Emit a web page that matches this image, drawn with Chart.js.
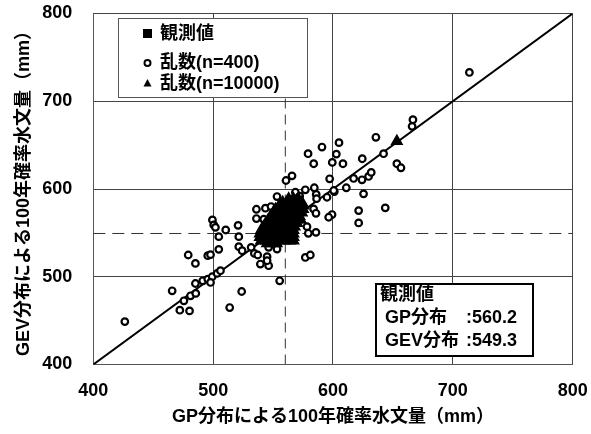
<!DOCTYPE html>
<html>
<head>
<meta charset="utf-8">
<script src="https://cdn.jsdelivr.net/npm/chart.js@4.4.1/dist/chart.umd.min.js"></script>
<style>
html,body{margin:0;padding:0;background:#fff;}
#c{display:block;}
</style>
</head>
<body>
<canvas id="c" width="591" height="434"></canvas>
<script>
// ---- data ----
const xTitle = "GP分布による100年確率水文量（mm）";
const yTitle = "GEV分布による100年確率水文量（mm）";
const legendLabels = ["観測値", "乱数(n=400)", "乱数(n=10000)"];
const axisMin = 400, axisMax = 800, tickStep = 100;
const observedGP = 560.2;
const observedGEV = 549.3;
const noteTitle = "観測値";
const noteRows = [["GP分布", ":560.2"], ["GEV分布", ":549.3"]];

// n=400 random samples [GP, GEV]
const sample400 = [
 [713.8,732.8],[666.7,679],[666,671.4],[635.8,658.9],[605,652.8],[590.8,647.8],
 [579.2,640.2],[602.8,639.8],[583.9,628.8],[599.4,630.3],[608.3,628.8],[624.4,634.5],
 [642.2,640.2],[653.3,628.8],[656.7,624.2],[565.8,615],[560.8,609.7],[597.2,611.6],
 [617.2,612],[624.2,610.5],[629.7,614.3],[631.9,618.9],[611.1,601.4],[601.1,597.1],
 [625.5,594.5],[584.4,601.4],[576.9,599.1],[568.6,596.3],[572.2,591.8],[586,593.8],
 [586.3,589],[595,590.6],[553.3,591.4],[600.6,598.3],[621.4,575.4],[643.6,578.5],
 [621.4,561.3],[599.2,570.9],[596.4,567.8],[583.8,577.4],[585.8,572.3],[578.3,557.1],
 [579.4,549.5],[585.8,550.6],[536.1,576.9],[543.6,578.1],[548.3,580],[536.1,566.3],
 [542.2,565.5],[546.3,564],[553.3,564],[499.4,564.8],[500.5,559.1],[501.9,556.3],
 [504.7,545.7],[510.5,553.3],[520.8,558.6],[521.4,545.7],[504.7,531.2],[495.5,524],
 [497.8,525.2],[479.2,524.8],[485.2,515.2],[521.4,534.3],[524.2,529.7],[531.7,533.5],
 [534.4,526.6],[537.2,524.8],[539.4,543.1],[543.6,541.1],[547.8,545.7],[546.3,533.5],
 [553.3,531.6],[545,522.9],[539.4,514.5],[546.3,512.6],[545,518.3],[576.9,522],
 [581.1,524.8],[555.5,495.4],[523.8,483.2],[513.8,464.9],[465.8,484],[472.2,461.9],
 [480.3,461.1],[426.3,448.9],[475.6,472.6],[481.1,478.3],[485.5,481],[485.2,492.3],
 [491.3,495.4],[495.5,497.3],[499.2,500],[503.3,503.8],[506.1,506.9],[497.8,493.5]
];

// n=10000 random samples [GP, GEV] (dense cluster)
const sample10000 = [
 [563,589],[567,589],[571,589],
 [558,585],[562,585],[566,585],[570,585],[574,585],
 [555,581],[559,581],[563,581],[567,581],[571,581],[575,581],
 [552,577],[556,577],[560,577],[564,577],[568,577],[572,577],[575,577],
 [550,573],[554,573],[558,573],[562,573],[566,573],[570,573],[574,573],
 [548,569],[552,569],[556,569],[560,569],[564,569],[568,569],[572,569],
 [546,565],[550,565],[554,565],[558,565],[562,565],[566,565],[570,565],[573,565],
 [544,561],[548,561],[552,561],[556,561],[560,561],[564,561],[568,561],[570,561],
 [542,557],[546,557],[550,557],[554,557],[558,557],[562,557],[566,557],[568,557],
 [540,553],[544,553],[548,553],[552,553],[556,553],[560,553],[564,553],[567,553],
 [539,549],[543,549],[547,549],[551,549],[555,549],[559,549],[563,549],[567,549],
 [539,545],[543,545],[547,545],[551,545],[555,545],[559,545],[563,545],[567,545],
 [540,541],[544,541],[548,541],[552,541],[556,541],[560,541],[564,541],[567,541],
 [545,538],[549,538],[553,538],
 [653.3,654.3]
];

const observed = [[observedGP, observedGEV]];

// ---- build ----
const toPts = a => a.map(p => ({x: p[0], y: p[1]}));
const FONT = "'Liberation Sans', 'Noto Sans CJK JP', sans-serif";

const boxesPlugin = {
  id: 'boxes',
  afterDatasetsDraw(chart) {
    const ctx = chart.ctx;
    ctx.save();
    // legend box
    ctx.fillStyle = '#fff';
    ctx.fillRect(118, 18, 189, 79);
    ctx.strokeStyle = '#555';
    ctx.lineWidth = 1;
    ctx.strokeRect(118.5, 18.5, 189, 79);
    ctx.fillStyle = '#000';
    ctx.fillRect(143, 29, 9, 9);
    ctx.beginPath();
    ctx.arc(147.5, 63, 3, 0, Math.PI * 2);
    ctx.fillStyle = '#fff'; ctx.fill();
    ctx.lineWidth = 2; ctx.strokeStyle = '#000'; ctx.stroke();
    ctx.beginPath();
    ctx.moveTo(147.5, 79); ctx.lineTo(151.5, 86.5); ctx.lineTo(143.5, 86.5); ctx.closePath();
    ctx.fillStyle = '#000'; ctx.fill();
    ctx.font = "bold 18px " + FONT;
    ctx.textBaseline = 'middle';
    ctx.textAlign = 'left';
    ctx.fillText(legendLabels[0], 160, 34);
    ctx.fillText(legendLabels[1], 160, 63);
    ctx.fillText(legendLabels[2], 160, 84);
    // note box
    ctx.fillStyle = '#fff';
    ctx.fillRect(375, 283, 158, 73);
    ctx.strokeStyle = '#000';
    ctx.lineWidth = 2;
    ctx.strokeRect(376, 284, 157, 72);
    ctx.fillStyle = '#000';
    ctx.fillText(noteTitle, 380, 295);
    ctx.fillText(noteRows[0][0], 385, 318);
    ctx.fillText(noteRows[0][1], 466, 318);
    ctx.fillText(noteRows[1][0], 385, 341);
    ctx.fillText(noteRows[1][1], 466, 341);
    ctx.restore();
  }
};

new Chart(document.getElementById('c'), {
  type: 'scatter',
  data: {
    datasets: [
      { label: legendLabels[0], data: toPts(observed), pointStyle: 'rect', pointRadius: 5,
        backgroundColor: '#000', borderColor: '#000', order: 1 },
      { label: legendLabels[2], data: toPts(sample10000), pointStyle: 'triangle', pointRadius: 5.5,
        backgroundColor: '#000', borderColor: '#000', borderWidth: 2, order: 2 },
      { label: legendLabels[1], data: toPts(sample400), pointStyle: 'circle', pointRadius: 3.3,
        backgroundColor: '#fff', borderColor: '#000', borderWidth: 2.2, order: 3 },
      { label: '1:1', data: [{x: axisMin, y: axisMin}, {x: axisMax, y: axisMax}], showLine: true,
        pointRadius: 0, borderColor: '#000', borderWidth: 2, order: 4 },
      { label: 'obsGP', data: [{x: observedGP, y: axisMin}, {x: observedGP, y: axisMax}], showLine: true,
        pointRadius: 0, borderColor: '#333', borderWidth: 1, borderDash: [10, 6], order: 5 },
      { label: 'obsGEV', data: [{x: axisMin, y: observedGEV}, {x: axisMax, y: observedGEV}], showLine: true,
        pointRadius: 0, borderColor: '#333', borderWidth: 1, borderDash: [12, 7], order: 5 }
    ]
  },
  options: {
    responsive: false,
    animation: false,
    devicePixelRatio: 1,
    layout: { padding: { top: 13.5, right: 18.3, left: 0, bottom: 0 } },
    plugins: { legend: { display: false }, tooltip: { enabled: false } },
    scales: {
      x: {
        type: 'linear', min: axisMin, max: axisMax,
        ticks: { stepSize: tickStep, color: '#000', padding: 16, font: { family: FONT, size: 18, weight: 'bold' } },
        grid: { color: '#444', lineWidth: 1, drawTicks: false },
        border: { display: true, color: '#555', width: 1 },
        title: { display: true, text: xTitle, color: '#000', padding: { top: 0, bottom: 6 },
          font: { family: FONT, size: 18, weight: 'bold' } },
        afterFit(s) { s.height = 69.5; s.paddingLeft = 0; s.paddingRight = 0; }
      },
      y: {
        type: 'linear', min: axisMin, max: axisMax,
        ticks: { stepSize: tickStep, color: '#000', padding: 21, font: { family: FONT, size: 18, weight: 'bold' } },
        grid: { color: '#444', lineWidth: 1, drawTicks: false },
        border: { display: true, color: '#555', width: 1 },
        title: { display: true, text: yTitle, color: '#000', padding: { top: 13, bottom: 0 },
          font: { family: FONT, size: 18, weight: 'bold' } },
        afterFit(s) { s.width = 93.3; s.paddingTop = 0; s.paddingBottom = 0; }
      }
    }
  },
  plugins: [boxesPlugin]
});
</script>
</body>
</html>
